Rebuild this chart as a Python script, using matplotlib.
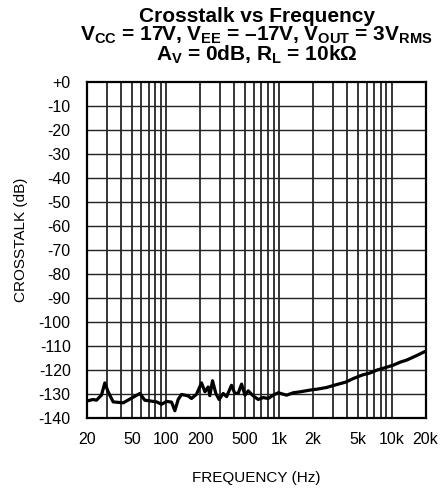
import matplotlib
matplotlib.use("Agg")
import matplotlib.pyplot as plt
from matplotlib.ticker import FixedLocator, NullFormatter

plt.rcParams['font.family'] = ['Liberation Sans', 'DejaVu Sans']
plt.rcParams['mathtext.fontset'] = 'custom'
plt.rcParams['mathtext.rm'] = 'Liberation Sans'
plt.rcParams['mathtext.bf'] = 'Liberation Sans:bold'
plt.rcParams['mathtext.default'] = 'bf'

freqs = [20, 22.5, 24.1, 26.7, 28.6, 30.6, 33.9, 41.6, 58.5, 64.7, 82.2, 91,
         100.9, 111.7, 119.5, 127.9, 137, 156.8, 168, 186, 206, 221, 236, 244,
         258, 276, 295, 321, 344, 380, 407, 436, 467, 500, 535, 592, 656, 726,
         804, 891, 986, 1172, 1340, 1550, 1884, 2250, 2650, 3250, 3900, 4560,
         5500, 6400, 7360, 8700, 10340, 12000, 13580, 16500, 20000]
crosstalk = [-132.8, -132.2, -132.5, -130.4, -125.3, -129.0, -133.2, -133.6, -129.7, -132.5, -133.2, -134.2,
             -133.0, -133.3, -136.9, -132.2, -130.1, -130.7, -131.8, -130.0, -125.3, -129.0, -127.0, -130.6,
             -124.4, -129.7, -132.2, -129.7, -131.0, -126.3, -129.7, -129.6, -125.8, -130.4, -128.6, -130.7, -132.2, -131.4,
             -131.8, -130.4, -129.4, -130.4, -129.4, -129.0, -128.3, -127.8, -127.2, -126.0, -125.0, -123.5,
             -122.0, -121.2, -120.0, -119.0, -117.9, -116.6, -115.8, -114.0, -112.1]

xTicks = [20, 50, 100, 200, 500, 1000, 2000, 5000, 10000, 20000]
xTickLabels = ['20', '50', '100', '200', '500', '1k', '2k', '5k', '10k', '20k']
yTicks = list(range(0, -150, -10))
yTickLabels = ['+0'] + [str(v) for v in yTicks[1:]]

titleLines = ['Crosstalk vs Frequency',
              r'V$_{CC}$ = 17V, V$_{EE}$ = –17V, V$_{OUT}$ = 3V$_{RMS}$',
              r'A$_{V}$ = 0dB, R$_{L}$ = 10kΩ']

fig = plt.figure(figsize=(4.41, 4.92), dpi=100)
ax = fig.add_axes([0.198, 0.150, 0.767, 0.683])

ax.set_xscale('log')
ax.set_xlim(20, 20000)
ax.set_ylim(-140, 0)

gridPositions = [m * 10 ** e for e in range(1, 5) for m in range(1, 10)]
gridPositions = [g for g in gridPositions if 20 < g < 20000]
for g in gridPositions:
    ax.axvline(g, color='black', lw=1.1, zorder=1)
for v in yTicks[1:-1]:
    ax.axhline(v, color='#222222', lw=1.0, zorder=1)

ax.plot(freqs, crosstalk, color='black', lw=2.3, zorder=3, solid_joinstyle='round')

ax.xaxis.set_major_locator(FixedLocator(xTicks))
ax.xaxis.set_minor_locator(FixedLocator([]))
ax.xaxis.set_minor_formatter(NullFormatter())
ax.set_xticklabels(xTickLabels)
ax.set_yticks(yTicks)
ax.set_yticklabels(yTickLabels)
ax.tick_params(length=0, labelsize=11.5, pad=10)
ax.tick_params(axis='y', pad=12)
for s in ax.spines.values():
    s.set_linewidth(1.6)

ax.set_xlabel('FREQUENCY (Hz)', fontsize=11, labelpad=17)
ax.set_ylabel('CROSSTALK (dB)', fontsize=11)
ax.yaxis.set_label_coords(-0.175, 0.53)

# title block as one text so the tight line spacing matches the datasheet
fig.text(0.582, 0.985, '\n'.join(titleLines), ha='center', va='top', multialignment='center',
         fontsize=15, fontweight='bold', linespacing=0.88)

fig.savefig('out.png', dpi=100)
